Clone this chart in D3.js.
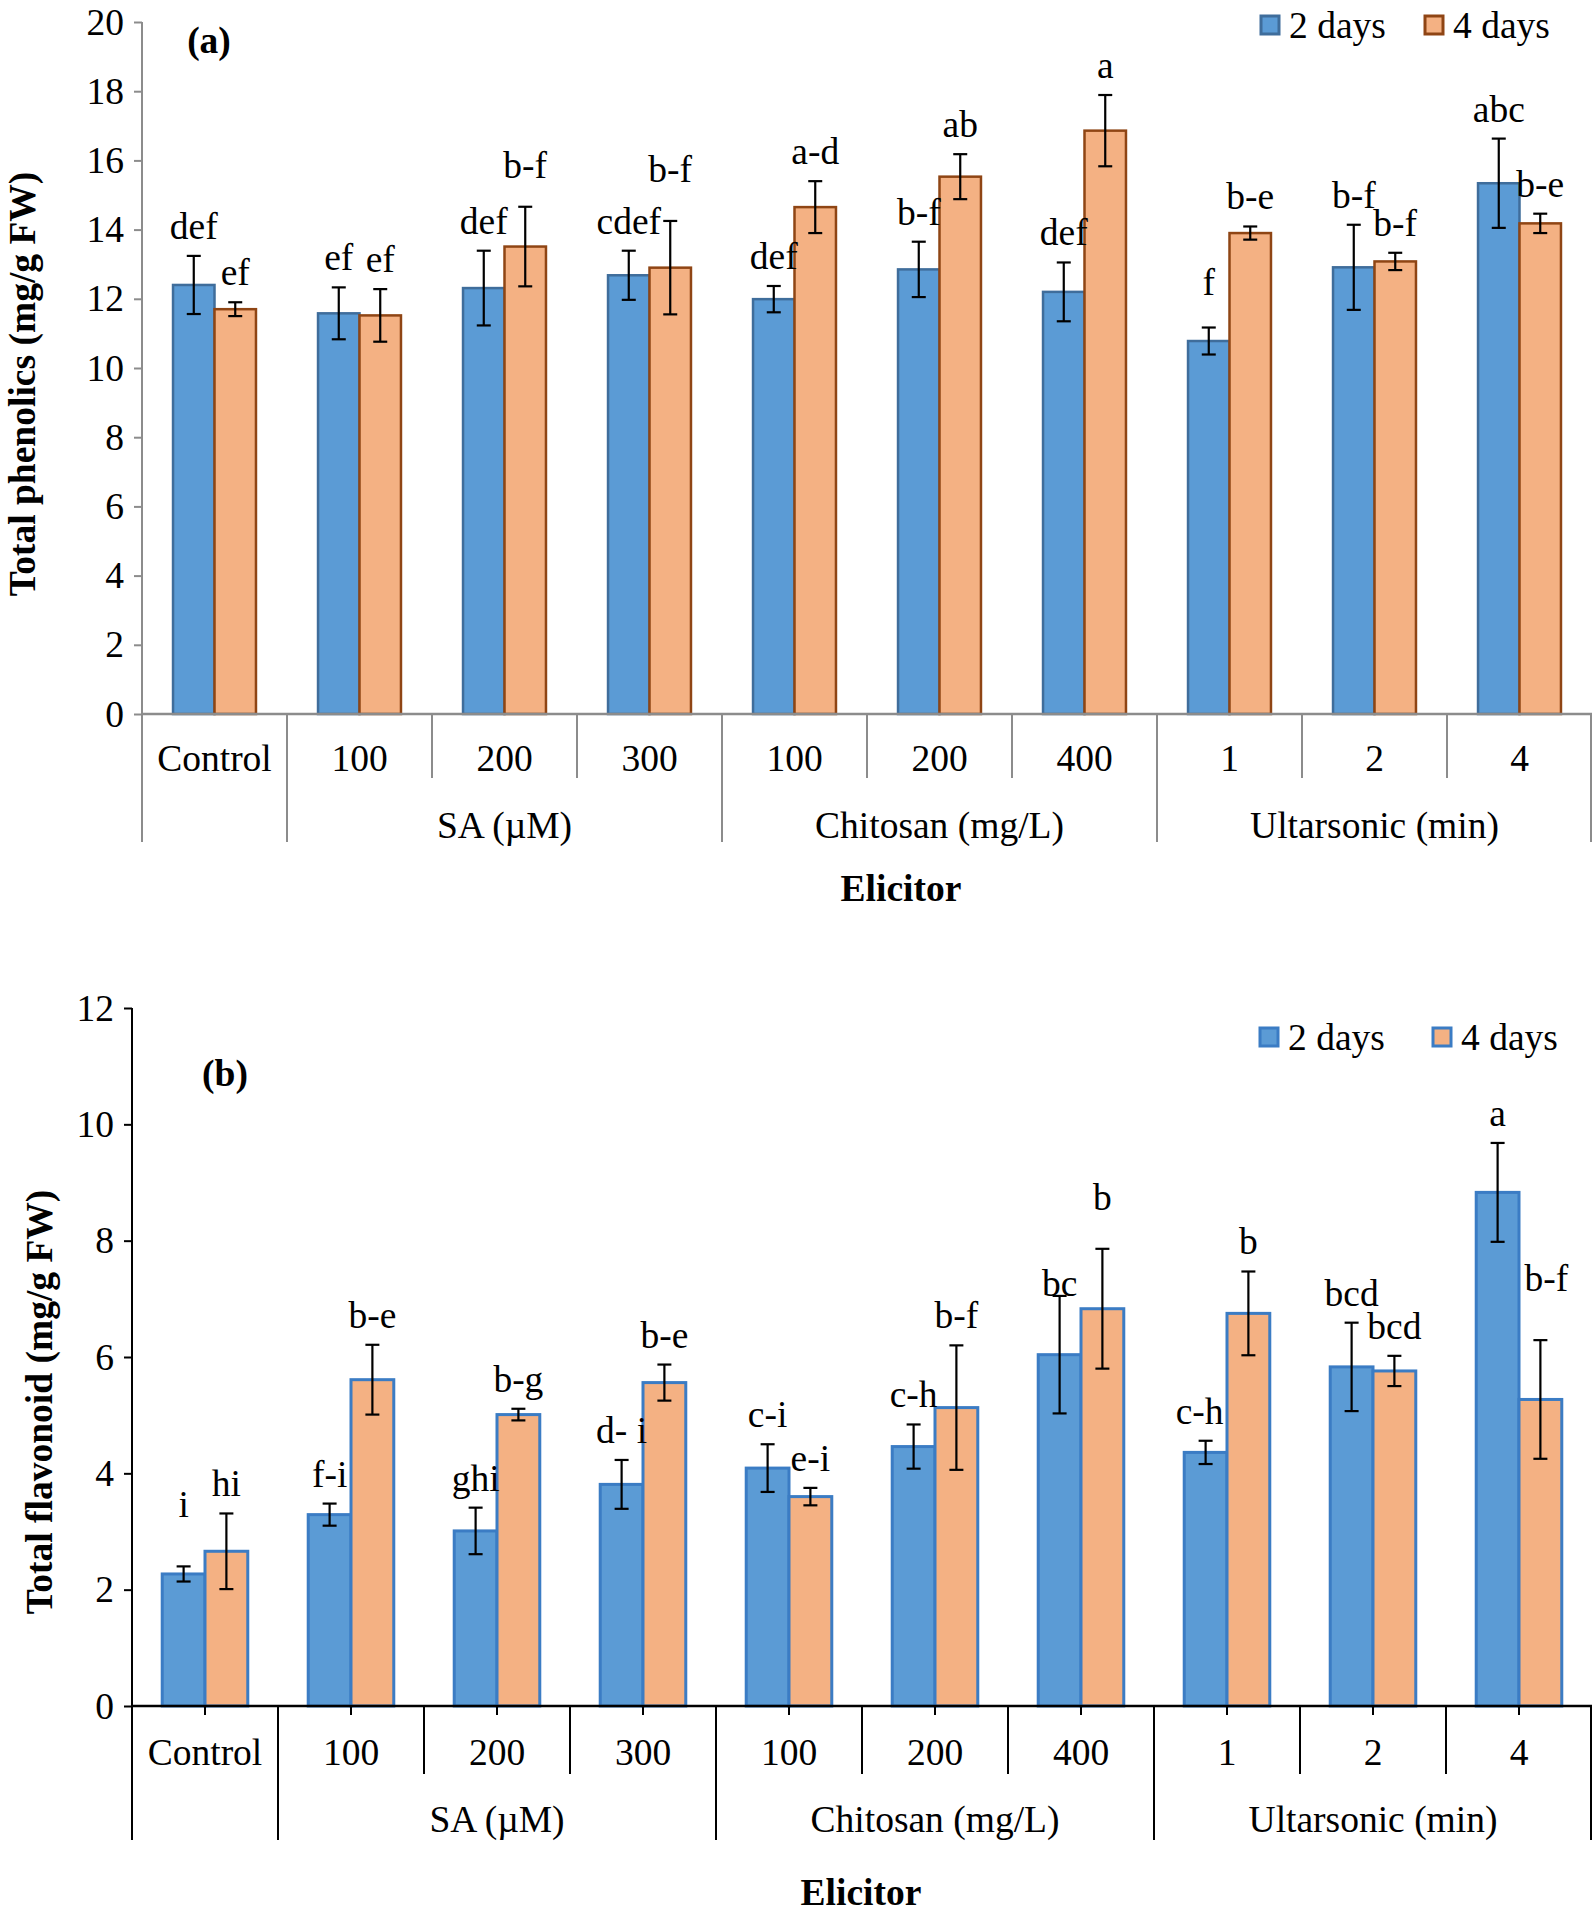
<!DOCTYPE html>
<html>
<head>
<meta charset="utf-8">
<script src="https://cdn.jsdelivr.net/npm/d3@7"></script>
<style>
  html, body { margin: 0; padding: 0; background: #fff; }
  svg { display: block; }
  text { font-family: "Liberation Serif", "Times New Roman", serif; fill: #000; }
</style>
</head>
<body>
<svg id="chart" width="1594" height="1916"></svg>
<script>
// ---------------- DATA ----------------
const categories = ["Control", "100", "200", "300", "100", "200", "400", "1", "2", "4"];
const categoryGroup = [0, 1, 1, 1, 2, 2, 2, 3, 3, 3];
const groupNames = ["", "SA (\u00B5M)", "Chitosan (mg/L)", "Ultarsonic (min)"];
const series = ["2 days", "4 days"];

// (a) Total phenolics (mg/g FW)
const phenolics2 = [12.40, 11.58, 12.31, 12.68, 11.99, 12.85, 12.20, 10.78, 12.91, 15.34];
const phenolics2Err = [0.84, 0.75, 1.08, 0.71, 0.38, 0.80, 0.85, 0.39, 1.23, 1.29];
const phenolics4 = [11.70, 11.52, 13.51, 12.90, 14.65, 15.53, 16.86, 13.90, 13.08, 14.18];
const phenolics4Err = [0.20, 0.76, 1.15, 1.35, 0.75, 0.65, 1.03, 0.19, 0.25, 0.28];
const phenolics2Letters = ["def", "ef", "def", "cdef", "def", "b-f", "def", "f", "b-f", "abc"];
const phenolics4Letters = ["ef", "ef", "b-f", "b-f", "a-d", "ab", "a", "b-e", "b-f", "b-e"];
const phenolicsTicks = [0, 2, 4, 6, 8, 10, 12, 14, 16, 18, 20];

// (b) Total flavonoid (mg/g FW)
const flavonoid2 = [2.27, 3.29, 3.01, 3.81, 4.09, 4.46, 6.04, 4.36, 5.83, 8.83];
const flavonoid2Err = [0.13, 0.19, 0.40, 0.42, 0.41, 0.38, 1.01, 0.20, 0.76, 0.85];
const flavonoid4 = [2.66, 5.61, 5.01, 5.56, 3.60, 5.13, 6.83, 6.75, 5.76, 5.27];
const flavonoid4Err = [0.65, 0.60, 0.10, 0.31, 0.15, 1.07, 1.03, 0.72, 0.26, 1.02];
const flavonoid2Letters = ["i", "f-i", "ghi", "d- i", "c-i", "c-h", "bc", "c-h", "bcd", "a"];
const flavonoid4Letters = ["hi", "b-e", "b-g", "b-e", "e-i", "b-f", "b", "b", "bcd", "b-f"];
const flavonoidTicks = [0, 2, 4, 6, 8, 10, 12];

// ---------------- DRAWING ----------------
const svg = d3.select("#chart");
const FS = 37.5;

function drawPanel(cfg, d) {
  const g = svg.append("g");
  const idx = d3.range(categories.length);

  const y = d3.scaleLinear().domain([0, d.max]).range([cfg.y0, cfg.yTop]);
  const x0 = d3.scaleBand().domain(idx).range([cfg.xLeft, cfg.xRight]).paddingInner(0).paddingOuter(0);
  const bw = x0.bandwidth();
  const x1 = d3.scaleBand().domain(series).range([bw * cfg.inner, bw * (1 - cfg.inner)]).padding(0);

  // y axis
  const yAxis = d3.axisLeft(y).tickValues(d.ticks).tickSize(8).tickPadding(10).tickFormat(d3.format("d"));
  const ya = g.append("g").attr("transform", `translate(${cfg.xLeft},0)`).call(yAxis);
  ya.select(".domain").remove();
  ya.selectAll(".tick line").attr("stroke", cfg.axisColor).attr("stroke-width", 2);
  ya.selectAll(".tick text").attr("font-size", FS).attr("font-family", "Liberation Serif").attr("fill", "#000");
  g.append("line").attr("x1", cfg.xLeft).attr("x2", cfg.xLeft)
    .attr("y1", y(d.max)).attr("y2", cfg.sepLong)
    .attr("stroke", cfg.axisColor).attr("stroke-width", 2);

  // bars
  const valsBy = [d.v2, d.v4];
  const errBy = [d.e2, d.e4];
  const lettersBy = [d.l2, d.l4];
  const fills = ["#5B9BD5", "#F4B183"];
  series.forEach((s, si) => {
    g.append("g").selectAll("rect").data(idx).join("rect")
      .attr("x", i => x0(i) + x1(s))
      .attr("width", x1.bandwidth())
      .attr("y", i => y(valsBy[si][i]))
      .attr("height", i => y(0) - y(valsBy[si][i]))
      .attr("fill", fills[si])
      .attr("stroke", cfg.strokes[si])
      .attr("stroke-width", cfg.barStroke);
  });

  // x axis line
  g.append("line").attr("x1", cfg.xLeft).attr("x2", cfg.xRight)
    .attr("y1", y(0)).attr("y2", y(0))
    .attr("stroke", cfg.axisColor).attr("stroke-width", 2.5);

  // error bars and letters
  const cap = 7;
  series.forEach((s, si) => {
    const eg = g.append("g").attr("stroke", "#000").attr("stroke-width", 2.2);
    idx.forEach(i => {
      const cx = x0(i) + x1(s) + x1.bandwidth() / 2;
      const hi = y(valsBy[si][i] + errBy[si][i]);
      const lo = y(valsBy[si][i] - errBy[si][i]);
      eg.append("line").attr("x1", cx).attr("x2", cx).attr("y1", hi).attr("y2", lo);
      eg.append("line").attr("x1", cx - cap).attr("x2", cx + cap).attr("y1", hi).attr("y2", hi);
      eg.append("line").attr("x1", cx - cap).attr("x2", cx + cap).attr("y1", lo).attr("y2", lo);
      const nudge = (cfg.nudge[si] && cfg.nudge[si][i]) || [0, 0];
      g.append("text")
        .attr("x", cx + nudge[0])
        .attr("y", hi - 17 + nudge[1])
        .attr("text-anchor", "middle")
        .attr("font-size", FS)
        .text(lettersBy[si][i]);
    });
  });

  // category tick marks (center) if any
  if (cfg.centerTicks) {
    g.append("g").selectAll("line").data(idx).join("line")
      .attr("x1", i => x0(i) + bw / 2).attr("x2", i => x0(i) + bw / 2)
      .attr("y1", y(0)).attr("y2", y(0) + 9)
      .attr("stroke", cfg.axisColor).attr("stroke-width", 2);
  }

  // separators
  const bounds = d3.range(categories.length + 1);
  bounds.forEach(b => {
    if (b === 0) return;
    const isGroup = b === categories.length || categoryGroup[b] !== categoryGroup[b - 1];
    const xx = b === categories.length ? cfg.xRight - 1 : x0(b);
    g.append("line").attr("x1", xx).attr("x2", xx)
      .attr("y1", y(0)).attr("y2", isGroup ? cfg.sepLong : cfg.sepShort)
      .attr("stroke", cfg.axisColor).attr("stroke-width", 2);
  });

  // category labels
  g.append("g").selectAll("text").data(idx).join("text")
    .attr("x", i => x0(i) + bw / 2)
    .attr("y", cfg.catLabelY)
    .attr("text-anchor", "middle")
    .attr("dy", "0.35em")
    .attr("font-size", FS)
    .text(i => categories[i]);

  // group labels
  groupNames.forEach((name, gi) => {
    if (!name) return;
    const members = idx.filter(i => categoryGroup[i] === gi);
    const xs = x0(members[0]);
    const xe = x0(members[members.length - 1]) + bw;
    g.append("text").attr("x", (xs + xe) / 2).attr("y", cfg.groupLabelY)
      .attr("text-anchor", "middle").attr("dy", "0.35em")
      .attr("font-size", FS).text(name);
  });

  // axis titles
  g.append("text").attr("x", cfg.xTitleX).attr("y", cfg.xTitleY)
    .attr("text-anchor", "middle").attr("dy", "0.35em")
    .attr("font-size", FS).attr("font-weight", "bold").text("Elicitor");
  g.append("text")
    .attr("transform", `translate(${cfg.yTitleX},${cfg.yTitleY}) rotate(-90)`)
    .attr("text-anchor", "middle").attr("dy", "0.35em")
    .attr("font-size", FS).attr("font-weight", "bold").text(d.yTitle);

  // panel letter
  g.append("text").attr("x", cfg.panelX).attr("y", cfg.panelY)
    .attr("text-anchor", "middle").attr("dy", "0.35em")
    .attr("font-size", FS).attr("font-weight", "bold").text(d.panel);

  // legend
  series.forEach((s, si) => {
    const lx = cfg.legendX[si];
    g.append("rect").attr("x", lx).attr("y", cfg.legendY - 9).attr("width", 18).attr("height", 18)
      .attr("fill", fills[si]).attr("stroke", cfg.strokes[si]).attr("stroke-width", 3);
    g.append("text").attr("x", lx + cfg.legendTextGap).attr("y", cfg.legendY)
      .attr("dy", "0.35em").attr("font-size", FS).text(s);
  });
}

drawPanel({
  xLeft: 142, xRight: 1592, y0: 714, yTop: 22,
  inner: 0.214,
  axisColor: "#8c8c8c",
  strokes: ["#3f6d9b", "#8f4514"],
  barStroke: 2.5,
  centerTicks: false,
  sepShort: 778, sepLong: 842,
  catLabelY: 758, groupLabelY: 825,
  xTitleX: 901, xTitleY: 888,
  yTitleX: 22, yTitleY: 384,
  panelX: 209, panelY: 40,
  legendX: [1261, 1425], legendY: 25, legendTextGap: 28,
  nudge: [
    { 7: [0, -16] },
    { 2: [0, -12], 3: [0, -22] }
  ]
}, {
  max: 20, ticks: phenolicsTicks,
  v2: phenolics2, e2: phenolics2Err, v4: phenolics4, e4: phenolics4Err,
  l2: phenolics2Letters, l4: phenolics4Letters,
  yTitle: "Total phenolics (mg/g FW)", panel: "(a)"
});

drawPanel({
  xLeft: 132, xRight: 1592, y0: 1706, yTop: 1008,
  inner: 0.207,
  axisColor: "#000",
  strokes: ["#3b7cc4", "#3b7cc4"],
  barStroke: 3,
  centerTicks: true,
  sepShort: 1774, sepLong: 1840,
  catLabelY: 1752, groupLabelY: 1819,
  xTitleX: 861, xTitleY: 1892,
  yTitleX: 39, yTitleY: 1402,
  panelX: 225, panelY: 1073,
  legendX: [1260, 1433], legendY: 1037, legendTextGap: 28,
  nudge: [
    { 0: [0, -32], 6: [0, 17], 7: [-6, 0] },
    { 6: [0, -22], 9: [6, -32] }
  ]
}, {
  max: 12, ticks: flavonoidTicks,
  v2: flavonoid2, e2: flavonoid2Err, v4: flavonoid4, e4: flavonoid4Err,
  l2: flavonoid2Letters, l4: flavonoid4Letters,
  yTitle: "Total flavonoid (mg/g FW)", panel: "(b)"
});
</script>
</body>
</html>
